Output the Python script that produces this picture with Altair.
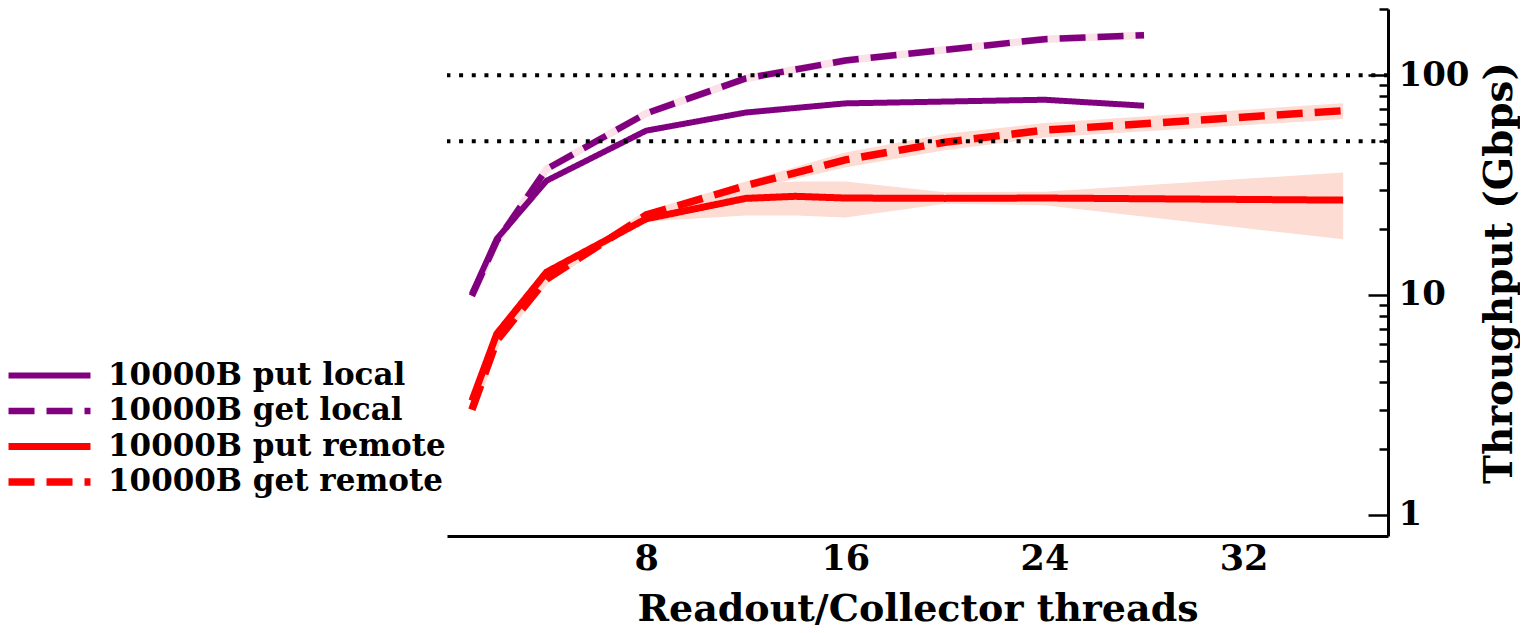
import altair as alt
import pandas as pd

# ---------------- data ----------------
series_names = ["10000B put local", "10000B get local", "10000B put remote", "10000B get remote"]
series_colors = ["#800080", "#800080", "#ff0000", "#ff0000"]
series_dashes = [[1, 0], [26, 12], [1, 0], [26, 12]]
series_widths = [6, 7.5, 7, 7.5]

threads_local = [1, 2, 4, 8, 12, 16, 24, 28]
put_local = [10.1, 18.0, 33.1, 55.9, 67.6, 74.4, 77.3, 72.6]
get_local = [9.9, 17.6, 37.4, 67.0, 96.6, 116.6, 145.8, 152.0]

threads_put_remote = [1, 2, 4, 8, 12, 14, 16, 20, 24, 36]
put_remote = [3.3, 6.65, 12.7, 22.2, 27.5, 28.1, 27.6, 27.5, 27.6, 27.0]
put_remote_lo = [3.2, 6.5, 12.4, 21.6, 23.0, 23.0, 22.5, 26.0, 25.6, 17.9]
put_remote_hi = [3.4, 6.8, 13.0, 23.0, 31.9, 32.8, 32.8, 29.3, 29.5, 36.1]

threads_get_remote = [1, 2, 4, 8, 12, 16, 20, 24, 36]
get_remote = [3.0, 6.2, 11.8, 23.1, 31.4, 41.2, 49.5, 56.2, 68.9]
get_remote_lo = [2.95, 6.1, 11.6, 22.8, 30.0, 38.0, 45.5, 52.0, 63.1]
get_remote_hi = [3.05, 6.3, 12.0, 23.4, 32.8, 44.5, 54.0, 60.5, 74.6]

ref_levels = [100, 50]
x_ticks = [8, 16, 24, 32]
y_major = [1, 10, 100]
y_minor = [2, 3, 4, 5, 6, 7, 8, 9, 20, 30, 40, 50, 60, 70, 80, 90, 200]

# ---------------- tables ----------------
rows = []
for t, v in zip(threads_local, put_local):
    rows.append({"threads": t, "value": v, "series": series_names[0]})
for t, v in zip(threads_local, get_local):
    rows.append({"threads": t, "value": v, "series": series_names[1]})
for t, v in zip(threads_put_remote, put_remote):
    rows.append({"threads": t, "value": v, "series": series_names[2]})
for t, v in zip(threads_get_remote, get_remote):
    rows.append({"threads": t, "value": v, "series": series_names[3]})
lines_df = pd.DataFrame(rows)

band_rows = []
for t, lo, hi in zip(threads_put_remote, put_remote_lo, put_remote_hi):
    band_rows.append({"threads": t, "lo": lo, "hi": hi, "series": series_names[2]})
for t, lo, hi in zip(threads_get_remote, get_remote_lo, get_remote_hi):
    band_rows.append({"threads": t, "lo": lo, "hi": hi, "series": series_names[3]})
band_df = pd.DataFrame(band_rows)

ref_df = pd.DataFrame({"level": ref_levels})

FONT = "DejaVu Serif"
W, H = 941, 527

x_scale = alt.Scale(domain=[0, 37.8], nice=False, zero=False)
y_scale = alt.Scale(type="log", domain=[0.8, 200], nice=False)

x_axis = alt.Axis(
    values=x_ticks, ticks=False, grid=False, labelPadding=5,
    labelFont=FONT, labelFontWeight="bold", labelFontSize=35, labelColor="black",
    labelFlush=False,
    domainColor="black", domainWidth=3,
    title="Readout/Collector threads", titleFont=FONT, titleFontWeight="bold",
    titleFontSize=38, titleColor="black", titlePadding=14,
)
X = alt.X("threads:Q", scale=x_scale, axis=x_axis)

# long horizontal stroke symbol (path scaled by sqrt(size)/2)
legend = alt.Legend(
    orient="none", legendX=-413, legendY=351, title=None,
    labelFont=FONT, labelFontWeight="bold", labelFontSize=31, labelColor="black",
    labelLimit=500,
    symbolType="M-4,0H4", symbolSize=420, symbolStrokeWidth=7,
    rowPadding=3.5, labelOffset=43, padding=0,
)

# major tick marks (inward, long) on the right edge
y_major_tick_axis = alt.Axis(
    orient="left", offset=-W, values=y_major, labels=False, domain=False,
    ticks=True, tickSize=20, tickWidth=2.5, tickColor="black", grid=False, title=None,
)

bands = alt.Chart(band_df).mark_area(color="#fcdcd3", opacity=1).encode(
    x=X,
    y=alt.Y("lo:Q", scale=y_scale, axis=y_major_tick_axis),
    y2="hi:Q",
    detail="series:N",
)

gap_local = alt.Chart(lines_df).transform_filter(
    alt.datum.series == series_names[1]
).mark_line(color="#fbe1e8", strokeWidth=7.5).encode(
    x=X, y=alt.Y("value:Q", scale=y_scale, axis=None)
)
gap_remote = alt.Chart(lines_df).transform_filter(
    alt.datum.series == series_names[3]
).mark_line(color="#fcdcd5", strokeWidth=7.5).encode(
    x=X, y=alt.Y("value:Q", scale=y_scale, axis=None)
)

y_main_axis = alt.Axis(
    orient="right", values=y_major, format="d", grid=False, ticks=False,
    labelPadding=10, labelFont=FONT, labelFontWeight="bold", labelFontSize=34,
    labelColor="black",
    domainColor="black", domainWidth=3,
    title="Throughput (Gbps)", titleFont=FONT, titleFontWeight="bold",
    titleFontSize=39, titleColor="black", titleAngle=270, titleBaseline="top",
    titlePadding=12,
)

lines = alt.Chart(lines_df).mark_line().encode(
    x=X,
    y=alt.Y("value:Q", scale=y_scale, axis=y_main_axis),
    color=alt.Color("series:N", scale=alt.Scale(domain=series_names, range=series_colors), legend=legend),
    strokeDash=alt.StrokeDash("series:N", scale=alt.Scale(domain=series_names, range=series_dashes), legend=legend),
    strokeWidth=alt.StrokeWidth("series:N", scale=alt.Scale(domain=series_names, range=series_widths), legend=None),
    order="threads:Q",
)

# minor tick marks (inward, short) on the right edge
y_minor_axis = alt.Axis(
    orient="left", offset=-W, values=y_minor, labels=False, domain=False,
    ticks=True, tickSize=9, tickWidth=2.5, tickColor="black", grid=False, title=None,
)

refs = alt.Chart(ref_df).mark_rule(
    color="black", strokeWidth=4, strokeDash=[4, 8.67], strokeCap="butt"
).encode(
    y=alt.Y("level:Q", scale=y_scale, axis=y_minor_axis)
)

chart = alt.layer(bands, gap_local, gap_remote, lines, refs).resolve_scale(
    y="shared"
).resolve_axis(
    y="independent"
).properties(
    width=W, height=H,
    padding={"left": 34, "top": 7, "right": 0, "bottom": 0},
    background="white",
).configure_view(stroke=None)

chart.save("out.html", embed_options={"renderer": "svg", "actions": False})
